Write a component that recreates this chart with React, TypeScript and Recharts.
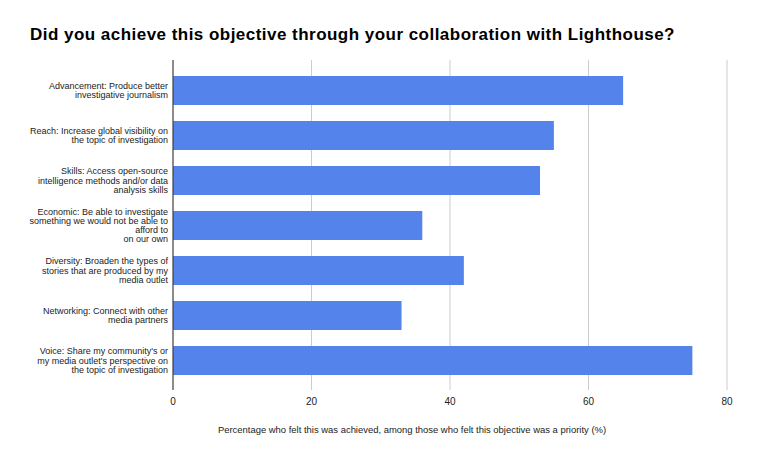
import React from 'react';
import { BarChart, Bar, XAxis, YAxis, CartesianGrid, Label } from 'recharts';

const title = 'Did you achieve this objective through your collaboration with Lighthouse?';
const axisTitle = 'Percentage who felt this was achieved, among those who felt this objective was a priority (%)';

// category labels, one entry per wrapped line as in the original
const categories: string[][] = [
  ['Advancement: Produce better', 'investigative journalism'],
  ['Reach: Increase global visibility on', 'the topic of investigation'],
  ['Skills: Access open-source', 'intelligence methods and/or data', 'analysis skills'],
  ['Economic: Be able to investigate', 'something we would not be able to', 'afford to', 'on our own'],
  ['Diversity: Broaden the types of', 'stories that are produced by my', 'media outlet'],
  ['Networking: Connect with other', 'media partners'],
  ["Voice: Share my community's or", "my media outlet's perspective on", 'the topic of investigation'],
];

const achieved: number[] = [65, 55, 53, 36, 42, 33, 75];

const xTicks: number[] = [0, 20, 40, 60, 80];

const data = categories.map((lines, i) => ({ name: lines.join('\n'), value: achieved[i] }));

const LINE_H = 9.2;

function CategoryTick(props: any) {
  const { x, y, payload } = props;
  const lines: string[] = String(payload.value).split('\n');
  const start = y - ((lines.length - 1) * LINE_H) / 2;
  return (
    <text x={x} y={start} textAnchor="end" fontSize={9} fill="#222" dominantBaseline="central">
      {lines.map((l, i) => (
        <tspan key={i} x={x} y={start + i * LINE_H} dominantBaseline="central">
          {l}
        </tspan>
      ))}
    </text>
  );
}

export default function App() {
  return (
    <div
      style={{
        position: 'absolute',
        left: 0,
        top: 0,
        width: 771,
        height: 455,
        background: '#fff',
        fontFamily: '"Liberation Sans", Arial, sans-serif',
      }}
    >
      <div
        style={{
          position: 'absolute',
          left: 30,
          top: 25,
          fontSize: 17,
          letterSpacing: 0.47,
          fontWeight: 'bold',
          color: '#000',
          whiteSpace: 'nowrap',
        }}
      >
        {title}
      </div>
      <BarChart
        width={771}
        height={455}
        data={data}
        layout="vertical"
        margin={{ top: 60, right: 44, bottom: 0, left: 0 }}
        barSize={29}
      >
        <CartesianGrid horizontal={false} stroke="#ccc" />
        <XAxis
          type="number"
          domain={[0, 80]}
          ticks={xTicks}
          tickLine={false}
          axisLine={false}
          height={65}
          tick={{ fontSize: 10, fill: '#222' }}
        >
          <Label value={axisTitle} position="insideBottom" offset={22} dx={-38} fontSize={9.45} fill="#222" />
        </XAxis>
        <YAxis
          type="category"
          dataKey="name"
          width={173}
          tickSize={0}
          tickMargin={5}
          axisLine={{ stroke: '#333' }}
          tick={<CategoryTick />}
          interval={0}
          padding={{ top: 8, bottom: 7 }}
        />
        <Bar dataKey="value" fill="#5383eb" isAnimationActive={false} />
      </BarChart>
    </div>
  );
}
